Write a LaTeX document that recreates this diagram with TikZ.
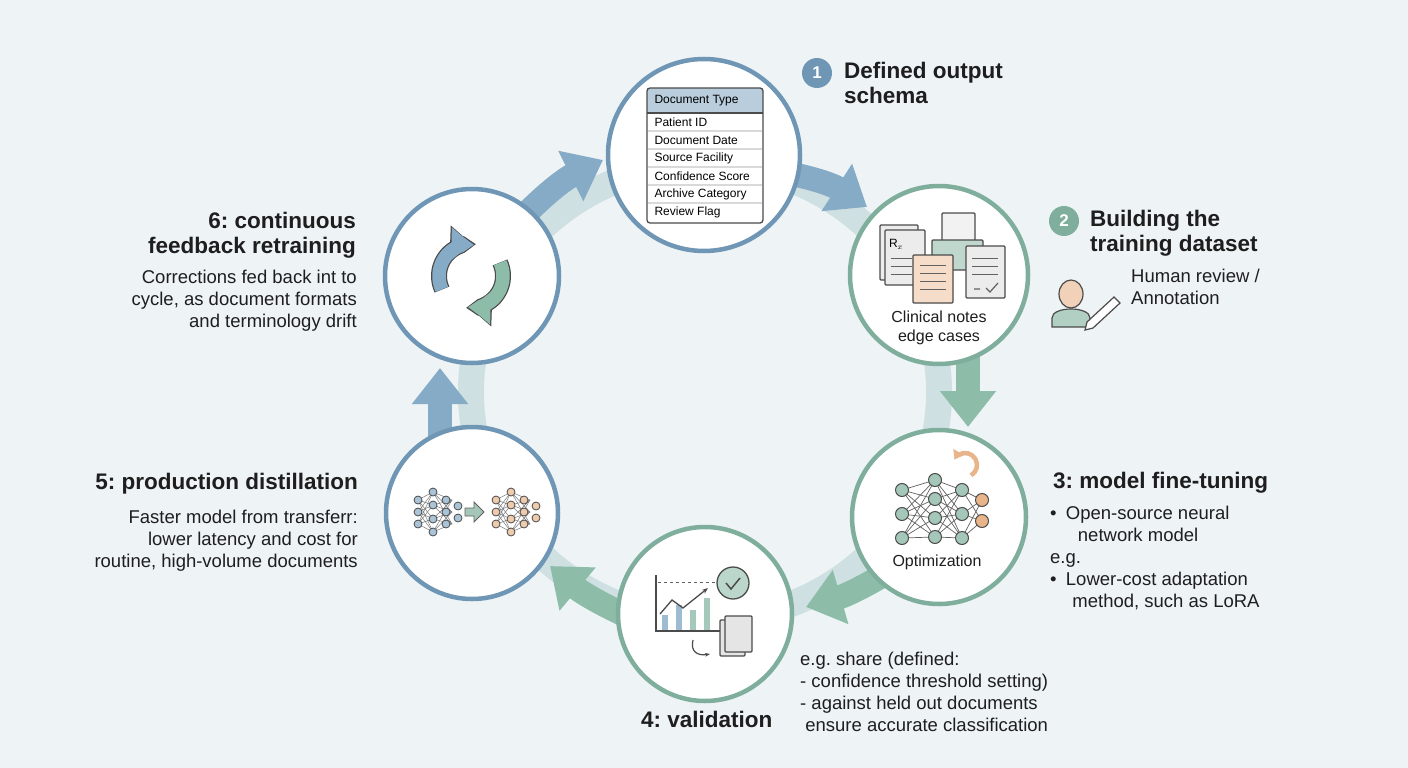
\documentclass[tikz,border=0pt]{standalone}
\usepackage{fontspec}
\setmainfont{Liberation Sans}
\usetikzlibrary{arrows.meta}
\definecolor{bg}{HTML}{EEF3F6}
\definecolor{cblue}{HTML}{6F97B5}
\definecolor{cteal}{HTML}{7FAF9C}
\definecolor{ablue}{HTML}{86ABC6}
\definecolor{ateal}{HTML}{8DBCA9}
\definecolor{ring}{HTML}{CFE0E2}
\definecolor{txt}{HTML}{1E1E1E}
\definecolor{orng}{HTML}{E8B48A}
\definecolor{hdr}{HTML}{B9CDDD}
\tikzset{
 stage/.style={circle,draw,line width=4.5pt,fill=white,inner sep=0pt},
 flow/.style={line width=24pt,-{Triangle[width=54pt,length=36pt]}},
 title/.style={font=\fontsize{22.5}{25}\selectfont\bfseries,text=txt,align=left,inner sep=0pt},
 body/.style={font=\fontsize{18.5}{22}\selectfont,text=txt,inner sep=0pt},
 badge/.style={circle,text=white,font=\fontsize{17}{17}\selectfont\bfseries,minimum size=30pt,inner sep=0pt},
 nn/.style={circle,draw=txt!80,line width=1pt,minimum size=13pt,inner sep=0pt},
 sn/.style={circle,draw=txt!80,line width=0.8pt,minimum size=8pt,inner sep=0pt},
 doc/.style={draw=txt!80,line width=1.2pt,rounded corners=1pt},
}
\frenchspacing
\begin{document}
\begin{tikzpicture}[x=1pt,y=-1pt]
\fill[bg] (0,0) rectangle (1408,768);
\useasboundingbox (0,0) rectangle (1408,768);
% ring
\draw[ring,line width=26pt] (705,392) ellipse [x radius=234,y radius=228];
% arrows (behind circles)
\coordinate (a1s) at (770,170); \coordinate (a1e) at (867,207);
\coordinate (a2s) at (968,340); \coordinate (a2e) at (968,427);
\coordinate (a3s) at (900,565); \coordinate (a3e) at (806,607);
\coordinate (a4s) at (640,622); \coordinate (a4e) at (550,566);
\coordinate (a5s) at (440,450); \coordinate (a5e) at (440,368);
\coordinate (a6s) at (515,225); \coordinate (a6e) at (603,160);
\draw[flow,ablue] (a1s) to[bend left=12] (a1e);
\draw[flow,ateal] (a2s) -- (a2e);
\draw[flow,ateal] (a3s) to[bend left=8] (a3e);
\draw[flow,ateal] (a4s) to[bend left=8] (a4e);
\draw[flow,ablue] (a5s) -- (a5e);
\draw[flow,ablue] (a6s) to[bend left=10] (a6e);
% circles
\node[stage,draw=cblue,minimum size=192pt] (c1) at (704,155) {};
\node[stage,draw=cteal,minimum size=178pt] (c2) at (939,275) {};
\node[stage,draw=cteal,minimum size=174pt] (c3) at (939,517) {};
\node[stage,draw=cteal,minimum size=174pt] (c4) at (705,614) {};
\node[stage,draw=cblue,minimum size=172pt] (c5) at (472,513) {};
\node[stage,draw=cblue,minimum size=174pt] (c6) at (472,276) {};
% re-draw arrow heads on top where they touch circles
% circle 1 table
\fill[white] (647,88) rectangle (763,223);
\fill[hdr] (647,88) rectangle (763,113);
\foreach \i in {1,...,5} \draw[gray!30,line width=1.5pt] (648,113+18*\i) -- (762,113+18*\i);
\draw[txt!80,line width=1.3pt] (647,113) -- (763,113);
\draw[txt!80,line width=1.3pt,rounded corners=3pt] (647,88) rectangle (763,223);
\node[anchor=west,font=\fontsize{12}{12}\selectfont] at (651,101) {Document Type};
\foreach \t [count=\i] in {Patient ID,Document Date,Source Facility,Confidence Score,Archive Category,Review Flag}
  \node[anchor=west,font=\fontsize{12}{12}\selectfont] at (651,104+18*\i) {\t};
% circle 2 documents
\filldraw[doc,fill=gray!15] (880,225) rectangle (918,280);
\filldraw[doc,fill=gray!15] (885,230) rectangle (925,285);
\node[font=\fontsize{12}{12}\selectfont] at (896,244) {R$_x$};
\foreach \y in {258,266,274} \draw[txt!70,line width=1pt] (891,\y) -- (912,\y);
\filldraw[doc,fill=gray!10] (942,213) rectangle (975,245);
\filldraw[doc,fill=cteal!50] (932,240) rectangle (983,270);
\filldraw[doc,fill=orng!45] (913,255) rectangle (953,303);
\foreach \y in {265,273,281,289} \draw[txt!70,line width=1pt] (920,\y) -- (946,\y);
\filldraw[doc,fill=gray!15] (966,246) rectangle (1005,298);
\foreach \y in {258,266,274} \draw[txt!70,line width=1pt] (972,\y) -- (998,\y);
\draw[txt!70,line width=1.2pt] (974,289) -- (980,289) (986,288) -- (990,292) -- (998,283);
\node[body,align=center,font=\fontsize{16}{19}\selectfont] (c2t) at (939,328) {Clinical notes\\edge cases};
% circle 3 network
\foreach \a in {1,2,3} \foreach \b in {1,2,3,4} \draw[txt!70,line width=0.7pt] (902,466+24*\a) -- (935,461+19*\b);
\foreach \a in {1,2,3,4} \foreach \b in {1,2,3} \draw[txt!70,line width=0.7pt] (935,461+19*\a) -- (962,466+24*\b);
\foreach \a in {1,2,3} \foreach \b in {1,2} \draw[txt!70,line width=0.7pt] (962,466+24*\a) -- (982,479+21*\b);
\foreach \i in {1,2,3} \node[nn,fill=cteal!70] at (902,466+24*\i) {};
\foreach \i in {1,2,3,4} \node[nn,fill=cteal!70] at (935,461+19*\i) {};
\foreach \i in {1,2,3} \node[nn,fill=cteal!70] at (962,466+24*\i) {};
\foreach \i in {1,2} \node[nn,fill=orng] at (982,479+21*\i) {};
\draw[orng,line width=4.5pt,-{Triangle[width=12pt,length=8pt]}] ([shift={(965,465)}]60:12) arc[start angle=60,end angle=-150,radius=12];
\node[body,font=\fontsize{16}{19}\selectfont] (c3t) at (937,562) {Optimization};
% circle 4 chart
\draw[txt!80,line width=1.3pt] (656,575) -- (656,631) -- (725,631);
\draw[txt!70,dashed,line width=1pt] (658,582) -- (718,582);
\fill[ablue!80] (662,615) rectangle (668,630);
\fill[ablue!80] (676,605) rectangle (682,630);
\fill[ateal!80] (690,610) rectangle (696,630);
\fill[ateal!80] (704,598) rectangle (710,630);
\draw[txt!80,line width=1.3pt,-{Stealth[length=6pt]}] (660,614) -- (672,600) -- (683,608) -- (708,588);
\filldraw[draw=txt!80,fill=ateal!60,line width=1.3pt] (733,583) circle (16);
\draw[txt!80,line width=1.5pt] (726,583) -- (731,589) -- (740,578);
\filldraw[doc,fill=gray!20] (720,620) rectangle (745,656);
\filldraw[doc,fill=gray!20] (725,616) rectangle (752,652);
\draw[txt!80,line width=1.2pt,-{Stealth[length=5pt]}] (693,640) .. controls (690,652) and (698,656) .. (710,654);
% circle 5 nets
\foreach \dx/\col in {0/ablue,78/orng} {
  \foreach \a in {-12,0,12} \foreach \b in {-20,-7,7,20} \draw[txt!60,line width=0.5pt] (418+\dx,512+\a) -- (433+\dx,512+\b);
  \foreach \a in {-20,-7,7,20} \foreach \b in {-12,0,12} \draw[txt!60,line width=0.5pt] (433+\dx,512+\a) -- (452+\dx,512+\b);
  \foreach \y in {-12,0,12} \node[sn,fill=\col!70] at (418+\dx,512+\y) {};
  \foreach \y in {-20,-7,7,20} \node[sn,fill=\col!70] at (433+\dx,512+\y) {};
  \foreach \y in {-12,0,12} \node[sn,fill=\col!70] at (446+\dx,512+\y) {};
  \foreach \y in {-6,6} \node[sn,fill=\col!70] at (458+\dx,512+\y) {};
}
\draw[draw=txt!70,fill=cteal!70,line width=0.8pt] (465,508) -- (474,508) -- (474,502) -- (484,512) -- (474,522) -- (474,516) -- (465,516) -- cycle;
% circle 6 cycle
\draw[txt!80,line width=16pt,-{Triangle[width=34pt,length=22pt]}] ([shift={(471,276)}]155:32) arc[start angle=155,end angle=272,radius=32];
\draw[ablue,line width=13.5pt,-{Triangle[width=31pt,length=20pt]}] ([shift={(471,276)}]155.5:32) arc[start angle=155.5,end angle=271,radius=32];
\draw[txt!80,line width=16pt,-{Triangle[width=34pt,length=22pt]}] ([shift={(471,276)}]-25:32) arc[start angle=-25,end angle=92,radius=32];
\draw[ateal,line width=13.5pt,-{Triangle[width=31pt,length=20pt]}] ([shift={(471,276)}]-24.5:32) arc[start angle=-24.5,end angle=91,radius=32];
% titles
\node[badge,fill=cblue] (b1) at (817,73) {1};
\node[title,anchor=north west] (t1) at (844,62) {Defined output\\schema};
\node[badge,fill=cteal] (b2) at (1064,221) {2};
\node[title,anchor=north west] (t2) at (1090,210) {Building the\\training dataset};
\node[body,anchor=north west,align=left] (t2b) at (1131,269) {Human review /\\Annotation};
% person
\filldraw[draw=txt!80,fill=cteal!60,line width=1.2pt] (1052,327) -- (1052,318) .. controls (1052,306) and (1090,306) .. (1090,318) -- (1090,327) -- cycle;
\filldraw[draw=txt!80,fill=orng!60,line width=1.2pt] (1071,294) ellipse (12 and 14);
\draw[txt!80,line width=1.2pt,fill=white] (1087,322) -- (1114,297) -- (1120,303) -- (1093,328) -- (1085,330) -- cycle;
\node[title,anchor=north west] (t3) at (1053,472) {3: model fine-tuning};
\node[body,anchor=north west,align=left] (t3b) at (1050,506) {•\enspace Open-source neural\\\hspace{1.5em}network model\\e.g.\\•\enspace Lower-cost adaptation\\\hspace{1.2em}method, such as LoRA};
\node[title,anchor=north west] (t4) at (641,711) {4: validation};
\node[body,anchor=north west,align=left] (t4b) at (800,652) {e.g. share (defined:\\- confidence threshold setting)\\- against held out documents\\\ ensure accurate classification};
\node[title,anchor=north east] (t5) at (358,473) {5: production distillation};
\node[body,anchor=north east,align=right] (t5b) at (358,510) {Faster model from transferr:\\lower latency and cost for\\routine, high-volume documents};
\node[title,anchor=north east,align=right] (t6) at (356,212) {6: continuous\\feedback retraining};
\node[body,anchor=north east,align=right] (t6b) at (357,270) {Corrections fed back int to\\cycle, as document formats\\and terminology drift};
\end{tikzpicture}
\end{document}
